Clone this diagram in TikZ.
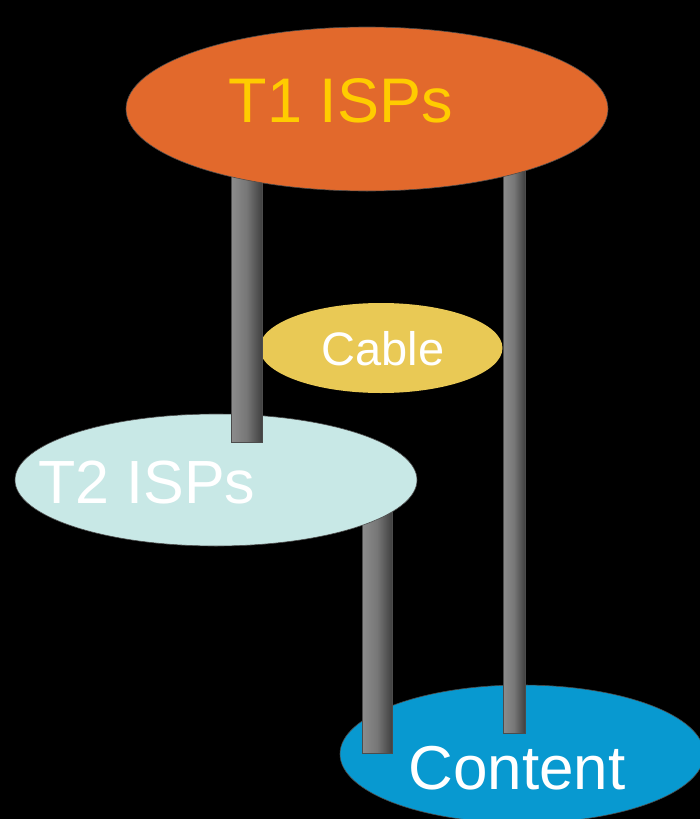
\documentclass[tikz,border=0pt]{standalone}
\usepackage{fontspec}
\setmainfont{Liberation Sans}
\usetikzlibrary{shapes.geometric}
\definecolor{tone}{HTML}{E2692C}
\definecolor{toneText}{HTML}{FFCC00}
\definecolor{cableFill}{HTML}{E9C955}
\definecolor{ttwo}{HTML}{C8E8E6}
\definecolor{contentFill}{HTML}{0899D0}
\definecolor{pillarLight}{HTML}{8C8C8C}
\definecolor{pillarMid}{HTML}{777777}
\definecolor{pillarDark}{HTML}{404040}
\tikzset{
  cloud/.style={ellipse, inner sep=0pt, draw=black!70, line width=0.6pt},
  label/.style={anchor=base, inner sep=0pt},
  pillar/.style={left color=pillarLight, right color=pillarDark, middle color=pillarMid, draw=black!70, line width=0.5pt}
}
\begin{document}
\begin{tikzpicture}[x=1pt,y=-1pt]
  \fill[black] (0,0) rectangle (700,819);
  \useasboundingbox (0,0) rectangle (700,819);

  % Content network and the pillar from T2 down to it
  \node[cloud, fill=contentFill, minimum width=364pt, minimum height=138pt] (content) at (522,754) {};
  \coordinate (p2top) at (362,500);
  \coordinate (p2bot) at (392,753);
  \shade[pillar] (p2top) rectangle (p2bot);

  % T2 ISPs
  \node[cloud, fill=ttwo, minimum width=402pt, minimum height=132pt] (t2) at (216,480) {};
  \node[label, white, font=\fontsize{61}{61}\selectfont] (t2label) at (147,503) {T2 ISPs};

  % Cable
  \node[cloud, fill=cableFill, draw=none, minimum width=243pt, minimum height=90pt] (cable) at (381,348) {};
  \node[label, white, font=\fontsize{47}{47}\selectfont] (cablelabel) at (383,365) {Cable};

  % Pillars hanging from T1
  \coordinate (p1top) at (231,150);
  \coordinate (p1bot) at (262,442);
  \shade[pillar] (p1top) rectangle (p1bot);
  \coordinate (p3top) at (503,150);
  \coordinate (p3bot) at (525,733);
  \shade[pillar] (p3top) rectangle (p3bot);

  \node[label, white, font=\fontsize{62}{62}\selectfont] (contentlabel) at (517,789) {Content};

  % T1 ISPs on top
  \node[cloud, fill=tone, minimum width=482pt, minimum height=164pt] (t1) at (367,109) {};
  \node[label, toneText, font=\fontsize{63}{63}\selectfont] (t1label) at (341,122) {T1 ISPs};
\end{tikzpicture}
\end{document}
